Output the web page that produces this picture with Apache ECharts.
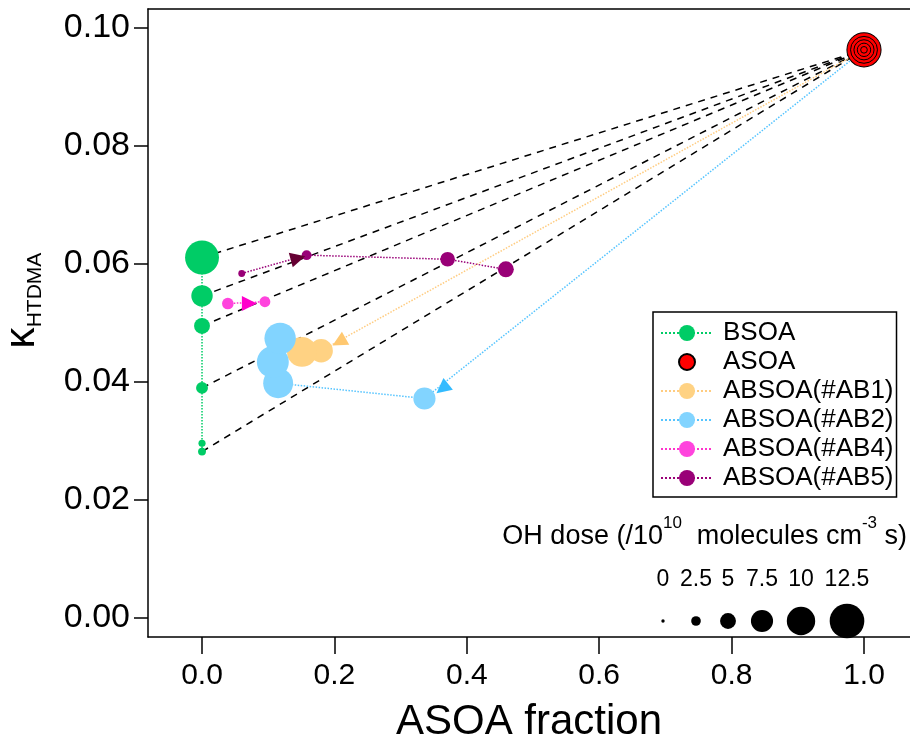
<!DOCTYPE html>
<html><head><meta charset="utf-8">
<script src="https://cdn.jsdelivr.net/npm/echarts@6/dist/echarts.min.js"></script>
<style>html,body{margin:0;padding:0;background:#fff}#c{width:910px;height:736px}</style>
</head><body><div id="c"></div>
<script>
// ---- data ----
const xTicks = [0, 0.2, 0.4, 0.6, 0.8, 1.0];
const yTicks = [0, 0.02, 0.04, 0.06, 0.08, 0.10];

const bsoaX = [0, 0, 0, 0, 0, 0];
const bsoaY = [0.0282, 0.0296, 0.0390, 0.0495, 0.0546, 0.0611];
const bsoaDose = [1.8, 1.5, 3.4, 5.0, 7.2, 12.2];

const asoaX = [1.0, 1.0, 1.0, 1.0, 1.0];
const asoaY = [0.0963, 0.0963, 0.0963, 0.0963, 0.0963];
const asoaDose = [12.3, 9.4, 6.7, 4.0, 1.3];

const ab1X = [0.180, 0.151];
const ab1Y = [0.0453, 0.0451];
const ab1Dose = [8.0, 10.6];

const ab2X = [0.336, 0.115, 0.107, 0.118];
const ab2Y = [0.0372, 0.0398, 0.0434, 0.0474];
const ab2Dose = [7.5, 10.6, 11.4, 11.2];

const ab4X = [0.039, 0.095];
const ab4Y = [0.0533, 0.0536];
const ab4Dose = [3.3, 3.0];

const ab5X = [0.060, 0.158, 0.371, 0.459];
const ab5Y = [0.0584, 0.0615, 0.0608, 0.0591];
const ab5Dose = [1.4, 2.6, 4.5, 5.0];

// BSOA points joined to ASOA by mixing lines
const mixFromIdx = [0, 2, 3, 4, 5];

// arrowheads: [fromX, fromY, headX, headY]
const arrowAB1 = [1.0, 0.0963, 0.207, 0.0468];
const arrowAB2 = [1.0, 0.0963, 0.363, 0.0389];
const arrowAB4 = [0.039, 0.0533, 0.0715, 0.0533];
const arrowAB5 = [0.060, 0.0584, 0.145, 0.0610];

const doseLegend = [0, 2.5, 5, 7.5, 10, 12.5];
const doseLegendLabels = ['0', '2.5', '5', '7.5', '10', '12.5'];

// ---- styling ----
const FONT = 'Liberation Sans, Arial, sans-serif';
const C = {
  bsoa: '#00CC66', asoa: '#FF0000', ab1: '#FFD283', ab2: '#82D4FF', ab4: '#FF44DD', ab5: '#990077',
  ab1l: '#FFCC80', ab2l: '#55C4FF', ab4l: '#FF33CC', ab5l: '#990077',
  ab1a: '#FFC870', ab2a: '#33BBFF', ab4a: '#FF00CC', ab5a: '#660033'
};
const sizeOf = d => 3.4 + 2.5 * d;

function pts(xs, ys, ds) { return xs.map((x, i) => [x, ys[i], ds[i]]); }

function lineSeries(name, data, color, lineColor) {
  return {
    type: 'line', name, data, color,
    symbol: 'circle',
    symbolSize: v => (v[2] == null ? 0 : sizeOf(v[2])),
    itemStyle: { color },
    lineStyle: { color: lineColor, type: 'dotted', width: 1.5 },
    showSymbol: true, showAllSymbol: true,
    emphasis: { disabled: true }, z: 3
  };
}

const asoaStart = { value: [asoaX[0], asoaY[0], null], symbol: 'none' };

const mixData = mixFromIdx.map(i => ({ coords: [[bsoaX[i], bsoaY[i]], [asoaX[0], asoaY[0]]] }));

function arrowItem(a, color) {
  return { coords: [[a[0], a[1]], [a[2], a[3]]], lineStyle: { color, opacity: 1, width: 0.01 } };
}

const chart = echarts.init(document.getElementById('c'), null, { renderer: 'canvas' });

const axisText = { color: '#000', fontFamily: FONT };

chart.setOption({
  animation: false,
  backgroundColor: '#fff',
  grid: { left: 148, right: 0, top: 9, bottom: 99, containLabel: false, outerBoundsMode: 'none' },
  xAxis: [{
    type: 'value', min: -0.0816, max: 1.0695,
    axisLine: { show: true, onZero: false, lineStyle: { color: '#000', width: 1.5 } },
    axisTick: { show: true, customValues: xTicks, length: 17, lineStyle: { color: '#000', width: 1.5 } },
    axisLabel: { show: true, customValues: xTicks, formatter: v => v.toFixed(1), fontSize: 30, margin: 24, ...axisText },
    splitLine: { show: false },
    name: 'ASOA fraction', nameLocation: 'middle', nameGap: 64,
    nameTextStyle: { fontSize: 42, ...axisText }
  }, {
    type: 'value', position: 'top', min: -0.0816, max: 1.0695,
    axisLine: { show: true, onZero: false, lineStyle: { color: '#000', width: 1.5 } },
    axisTick: { show: false }, axisLabel: { show: false }, splitLine: { show: false }
  }],
  yAxis: {
    type: 'value', min: -0.00322, max: 0.10322,
    axisLine: { show: true, onZero: false, lineStyle: { color: '#000', width: 1.5 } },
    axisTick: { show: true, customValues: yTicks, length: 14, lineStyle: { color: '#000', width: 1.5 } },
    axisLabel: { show: true, customValues: yTicks, formatter: v => v.toFixed(2), fontSize: 34, margin: 18, ...axisText },
    splitLine: { show: false }
  },
  legend: {
    orient: 'vertical', left: 653, top: 312,
    padding: [8, 3, 6, 7], itemGap: 3,
    itemWidth: 52, itemHeight: 20,
    borderColor: '#000', borderWidth: 1.5, backgroundColor: '#fff',
    selectedMode: false,
    textStyle: { fontSize: 26, color: '#000', fontFamily: FONT, padding: [0, 0, 0, 5] },
    data: ['BSOA', 'ASOA', 'ABSOA(#AB1)', 'ABSOA(#AB2)', 'ABSOA(#AB4)', 'ABSOA(#AB5)']
  },
  series: [
    {
      type: 'lines', coordinateSystem: 'cartesian2d', name: 'mixing',
      data: mixData, symbol: 'none',
      lineStyle: { color: '#000', width: 1.5, type: [7, 6], opacity: 1 },
      z: 1, silent: true
    },
    lineSeries('BSOA', pts(bsoaX, bsoaY, bsoaDose), C.bsoa, C.bsoa),
    {
      type: 'line', name: 'ASOA', data: pts(asoaX, asoaY, asoaDose), color: C.asoa,
      symbol: 'circle', symbolSize: v => sizeOf(v[2]),
      itemStyle: { color: C.asoa, borderColor: '#000', borderWidth: 1 },
      lineStyle: { width: 0, opacity: 0 },
      emphasis: { disabled: true }, z: 3
    },
    lineSeries('ABSOA(#AB1)', [asoaStart].concat(pts(ab1X, ab1Y, ab1Dose)), C.ab1, C.ab1l),
    lineSeries('ABSOA(#AB2)', [asoaStart].concat(pts(ab2X, ab2Y, ab2Dose)), C.ab2, C.ab2l),
    lineSeries('ABSOA(#AB4)', pts(ab4X, ab4Y, ab4Dose), C.ab4, C.ab4l),
    lineSeries('ABSOA(#AB5)', pts(ab5X, ab5Y, ab5Dose), C.ab5, C.ab5l),
    {
      type: 'lines', coordinateSystem: 'cartesian2d', name: 'arrows',
      symbol: ['none', 'triangle'], symbolSize: 15,
      lineStyle: { width: 0.01, opacity: 1 },
      data: [arrowItem(arrowAB1, C.ab1a), arrowItem(arrowAB2, C.ab2a), arrowItem(arrowAB4, C.ab4a), arrowItem(arrowAB5, C.ab5a)],
      z: 4, silent: true
    }
  ]
});

// ---- y-axis title and OH-dose size key ----
const doseX = [663, 696, 728, 762, 801, 847];
const graphics = [
  {
    type: 'text', x: 22, y: 338, rotation: Math.PI / 2,
    style: { text: 'κ', align: 'center', verticalAlign: 'middle', fontSize: 42, fontFamily: FONT, fill: '#000' }
  },
  {
    type: 'text', x: 35, y: 290, rotation: Math.PI / 2,
    style: { text: 'HTDMA', align: 'center', verticalAlign: 'middle', fontSize: 21, fontFamily: FONT, fill: '#000' }
  },
  {
    type: 'text', x: 907, y: 537,
    style: {
      text: 'OH dose (/10{sup|10}  molecules cm{sup|-3} s)', align: 'right', verticalAlign: 'middle',
      fontSize: 27, fontFamily: FONT, fill: '#000', lineHeight: 44,
      rich: { sup: { fontSize: 17, fontFamily: FONT, fill: '#000', lineHeight: 14, verticalAlign: 'top' } }
    }
  }
];
doseLegend.forEach((d, i) => {
  graphics.push({ type: 'text', x: doseX[i], y: 580,
    style: { text: doseLegendLabels[i], align: 'center', verticalAlign: 'middle', fontSize: 23, fontFamily: FONT, fill: '#000' } });
  graphics.push({ type: 'circle', shape: { cx: doseX[i], cy: 621, r: sizeOf(d) / 2 }, style: { fill: '#000' } });
});
chart.setOption({ graphic: graphics });
</script>
</body></html>
